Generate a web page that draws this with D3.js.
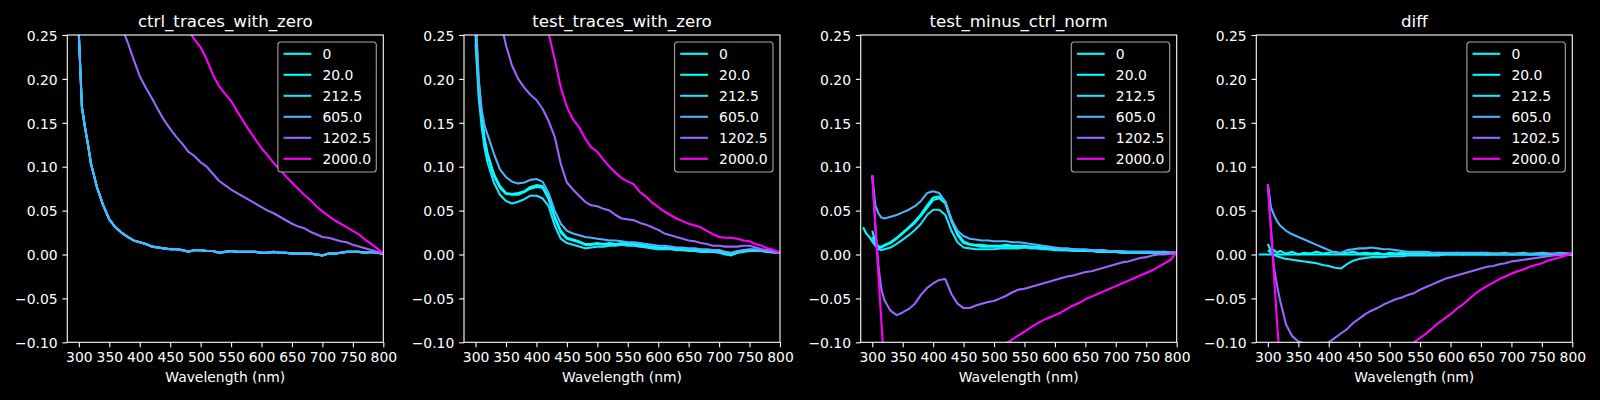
<!DOCTYPE html>
<html>
<head>
<meta charset="utf-8">
<script src="https://cdn.jsdelivr.net/npm/d3@7"></script>
<style>
    body { margin: 0; background: #000; }
    svg { display: block; font-family: "DejaVu Sans", sans-serif; }
</style>
</head>
<body>
<div id="chart"></div>
<script>
// wavelength grid (nm): 285..320 every 5, then 330..800 every 10
const wavelengths = [
    285, 290, 295, 300, 305, 310, 315, 320,
    330, 340, 350, 360, 370, 380, 390, 400,
    410, 420, 430, 440, 450, 460, 470, 480, 490, 500,
    510, 520, 530, 540, 550, 560, 570, 580, 590, 600,
    610, 620, 630, 640, 650, 660, 670, 680, 690, 700,
    710, 720, 730, 740, 750, 760, 770, 780, 790, 800
];

const concentrations = [0, 20, 212.5, 605, 1202.5, 2000];
const concLabels = ["0", "20.0", "212.5", "605.0", "1202.5", "2000.0"];
const panelTitles = ["ctrl_traces_with_zero", "test_traces_with_zero", "test_minus_ctrl_norm", "diff"];
const xTicks = [300, 350, 400, 450, 500, 550, 600, 650, 700, 750, 800];
const yTicks = [-0.10, -0.05, 0.00, 0.05, 0.10, 0.15, 0.20, 0.25];

// ---- ctrl traces (0, 20, 212.5 and 605 coincide)
const ctrlLow = [
    1.2, 0.8, 0.45, 0.25, 0.168, 0.145, 0.125, 0.103,
    0.076, 0.056, 0.040, 0.031, 0.025, 0.020, 0.016, 0.014,
    0.012, 0.009, 0.008, 0.007, 0.006, 0.006, 0.005, 0.003, 0.005, 0.005,
    0.004, 0.004, 0.002, 0.003, 0.004, 0.003, 0.003, 0.003, 0.003, 0.002,
    0.002, 0.003, 0.002, 0.002, 0.001, 0.001, 0.001, 0.001, 0.000, -0.001,
    0.001, 0.001, 0.002, 0.003, 0.003, 0.003, 0.002, 0.003, 0.002, 0.001
];
const ctrl1202 = [
    0.55, 0.52, 0.49, 0.46, 0.44, 0.42, 0.405, 0.39,
    0.36, 0.33, 0.305, 0.28, 0.26, 0.242, 0.222, 0.203,
    0.19, 0.178, 0.165, 0.153, 0.143, 0.134, 0.126, 0.117, 0.112, 0.105,
    0.100, 0.092, 0.084, 0.079, 0.074, 0.070, 0.066, 0.062, 0.058, 0.054,
    0.050, 0.047, 0.043, 0.039, 0.035, 0.032, 0.030, 0.026, 0.023, 0.020,
    0.019, 0.017, 0.015, 0.014, 0.011, 0.009, 0.007, 0.005, 0.003, 0.001
];
const ctrl2000 = [
    0.78, 0.75, 0.72, 0.70, 0.68, 0.66, 0.64, 0.62,
    0.58, 0.54, 0.51, 0.48, 0.45, 0.42, 0.40, 0.38,
    0.36, 0.34, 0.32, 0.305, 0.29, 0.28, 0.265, 0.255, 0.245, 0.236,
    0.222, 0.205, 0.192, 0.183, 0.175, 0.163, 0.152, 0.141, 0.131, 0.121,
    0.113, 0.104, 0.097, 0.089, 0.082, 0.075, 0.068, 0.062, 0.055, 0.049,
    0.044, 0.039, 0.035, 0.031, 0.027, 0.023, 0.017, 0.012, 0.007, 0.001
];

// ---- test traces
const test0 = [
    1.0, 0.7, 0.45, 0.26, 0.2, 0.16, 0.132, 0.115,
    0.092, 0.078, 0.070, 0.069, 0.070, 0.072, 0.077, 0.079,
    0.078, 0.066, 0.043, 0.027, 0.019, 0.017, 0.015, 0.012, 0.012, 0.013,
    0.012, 0.013, 0.012, 0.013, 0.012, 0.013, 0.011, 0.010, 0.009, 0.008,
    0.008, 0.007, 0.007, 0.006, 0.006, 0.005, 0.005, 0.004, 0.004, 0.003,
    0.002, 0.000, 0.003, 0.004, 0.005, 0.005, 0.004, 0.004, 0.003, 0.002
];
const test20 = [
    null, null, null, 0.25, 0.19, 0.155, 0.128, 0.112,
    0.089, 0.076, 0.069, 0.068, 0.068, 0.071, 0.075, 0.077,
    0.076, 0.063, 0.041, 0.025, 0.018, 0.016, 0.014, 0.011, 0.011, 0.012,
    0.011, 0.012, 0.011, 0.012, 0.012, 0.012, 0.010, 0.010, 0.008, 0.008,
    0.007, 0.007, 0.006, 0.006, 0.005, 0.005, 0.004, 0.004, 0.003, 0.003,
    0.001, 0.000, 0.002, 0.004, 0.004, 0.005, 0.004, 0.003, 0.003, 0.002
];
const test212 = [
    null, null, null, 0.24, 0.18, 0.145, 0.12, 0.104,
    0.082, 0.068, 0.061, 0.058, 0.060, 0.063, 0.067, 0.067,
    0.064, 0.055, 0.033, 0.018, 0.013, 0.011, 0.009, 0.007, 0.008, 0.009,
    0.009, 0.010, 0.010, 0.011, 0.010, 0.010, 0.009, 0.008, 0.007, 0.006,
    0.006, 0.006, 0.005, 0.005, 0.004, 0.004, 0.003, 0.003, 0.003, 0.002,
    0.000, -0.001, 0.002, 0.003, 0.004, 0.004, 0.004, 0.003, 0.002, 0.002
];
const test605 = [
    null, null, null, 0.28, 0.2, 0.165, 0.146, 0.136,
    0.115, 0.097, 0.088, 0.083, 0.081, 0.082, 0.085, 0.086,
    0.083, 0.070, 0.050, 0.035, 0.027, 0.024, 0.022, 0.020, 0.019, 0.018,
    0.017, 0.016, 0.016, 0.015, 0.014, 0.014, 0.013, 0.012, 0.011, 0.010,
    0.010, 0.009, 0.008, 0.008, 0.007, 0.007, 0.006, 0.006, 0.005, 0.005,
    0.003, 0.002, 0.004, 0.005, 0.006, 0.006, 0.005, 0.004, 0.003, 0.002
];
const test1202 = [
    null, null, null, 0.5, 0.46, 0.42, 0.39, 0.36,
    0.31, 0.27, 0.238, 0.215, 0.200, 0.190, 0.182, 0.176,
    0.166, 0.152, 0.134, 0.103, 0.082, 0.074, 0.067, 0.060, 0.056, 0.055,
    0.052, 0.050, 0.045, 0.041, 0.040, 0.039, 0.036, 0.034, 0.031, 0.028,
    0.024, 0.022, 0.020, 0.018, 0.016, 0.015, 0.013, 0.012, 0.010, 0.010,
    0.009, 0.009, 0.009, 0.010, 0.010, 0.008, 0.006, 0.005, 0.003, 0.002
];
const test2000 = [
    null, null, null, 0.8, 0.76, 0.72, 0.68, 0.65,
    0.58, 0.52, 0.47, 0.43, 0.39, 0.36, 0.33, 0.30,
    0.275, 0.252, 0.222, 0.19, 0.168, 0.154, 0.145, 0.132, 0.122, 0.117,
    0.108, 0.100, 0.093, 0.087, 0.083, 0.080, 0.071, 0.066, 0.059, 0.054,
    0.049, 0.045, 0.041, 0.038, 0.035, 0.033, 0.031, 0.027, 0.023, 0.020,
    0.019, 0.019, 0.018, 0.016, 0.015, 0.012, 0.010, 0.007, 0.005, 0.002
];

// ---- test minus ctrl, normalised
const norm0 = [
    0.031, 0.024, 0.020, 0.015, 0.010, 0.007, 0.008, 0.010,
    0.013, 0.018, 0.024, 0.030, 0.036, 0.044, 0.053, 0.062,
    0.064, 0.058, 0.038, 0.022, 0.013, 0.011, 0.010, 0.009, 0.009, 0.009,
    0.009, 0.009, 0.009, 0.008, 0.009, 0.008, 0.008, 0.007, 0.006, 0.006,
    0.005, 0.005, 0.005, 0.004, 0.004, 0.004, 0.004, 0.003, 0.003, 0.003,
    0.002, 0.002, 0.002, 0.002, 0.002, 0.002, 0.002, 0.002, 0.002, 0.002
];
const norm20 = [
    null, null, null, 0.027, 0.015, 0.009, 0.009, 0.011,
    0.014, 0.019, 0.025, 0.031, 0.038, 0.046, 0.056, 0.065,
    0.066, 0.060, 0.040, 0.024, 0.015, 0.012, 0.011, 0.011, 0.010, 0.010,
    0.010, 0.011, 0.010, 0.010, 0.010, 0.009, 0.009, 0.008, 0.007, 0.007,
    0.006, 0.006, 0.006, 0.005, 0.005, 0.005, 0.004, 0.004, 0.004, 0.003,
    0.003, 0.003, 0.003, 0.003, 0.003, 0.003, 0.002, 0.003, 0.002, 0.002
];
const norm212 = [
    null, null, null, 0.020, 0.012, 0.006, 0.005, 0.006,
    0.008, 0.012, 0.017, 0.022, 0.028, 0.035, 0.045, 0.051,
    0.051, 0.045, 0.027, 0.014, 0.008, 0.007, 0.006, 0.006, 0.006, 0.006,
    0.007, 0.007, 0.007, 0.007, 0.008, 0.007, 0.007, 0.006, 0.006, 0.005,
    0.005, 0.005, 0.004, 0.004, 0.004, 0.004, 0.003, 0.003, 0.003, 0.003,
    0.002, 0.002, 0.002, 0.002, 0.002, 0.002, 0.002, 0.002, 0.002, 0.002
];
const norm605 = [
    null, null, null, 0.090, 0.056, 0.047, 0.042, 0.041,
    0.043, 0.045, 0.048, 0.051, 0.055, 0.061, 0.070, 0.072,
    0.070, 0.060, 0.040, 0.027, 0.021, 0.018, 0.017, 0.016, 0.016, 0.015,
    0.015, 0.015, 0.014, 0.014, 0.013, 0.012, 0.011, 0.010, 0.009, 0.008,
    0.007, 0.007, 0.006, 0.006, 0.006, 0.005, 0.005, 0.005, 0.004, 0.004,
    0.004, 0.003, 0.003, 0.003, 0.003, 0.003, 0.003, 0.003, 0.002, 0.002
];
const norm1202 = [
    null, null, null, 0.090, 0.033, -0.012, -0.040, -0.052,
    -0.064, -0.069, -0.066, -0.062, -0.056, -0.046, -0.038, -0.033,
    -0.029, -0.028, -0.045, -0.056, -0.061, -0.061, -0.058, -0.056, -0.054, -0.053,
    -0.050, -0.047, -0.043, -0.040, -0.039, -0.037, -0.035, -0.033, -0.031, -0.029,
    -0.027, -0.025, -0.024, -0.022, -0.020, -0.019, -0.017, -0.015, -0.013, -0.011,
    -0.009, -0.008, -0.006, -0.004, -0.003, -0.001, 0.000, 0.000, 0.001, 0.001
];
const norm2000 = [
    null, null, null, 0.090, 0.033, -0.022, -0.077, -0.130,
    -0.19, -0.23, -0.25, -0.26, -0.26, -0.25, -0.24, -0.23,
    -0.22, -0.21, -0.20, -0.185, -0.17, -0.16, -0.15, -0.138, -0.128, -0.118,
    -0.109, -0.101, -0.097, -0.092, -0.088, -0.083, -0.079, -0.075, -0.072, -0.069,
    -0.066, -0.062, -0.058, -0.055, -0.051, -0.048, -0.045, -0.042, -0.039, -0.036,
    -0.033, -0.030, -0.027, -0.024, -0.021, -0.018, -0.014, -0.010, -0.006, 0.003
];

// ---- diff (relative to the 0 trace)
const diff0 = [
    0, 0, 0, 0, 0, 0, 0, 0,
    0, 0, 0, 0, 0, 0, 0, 0,
    0, 0, 0, 0, 0, 0, 0, 0, 0, 0,
    0, 0, 0, 0, 0, 0, 0, 0, 0, 0,
    0, 0, 0, 0, 0, 0, 0, 0, 0, 0,
    0, 0, 0, 0, 0, 0, 0, 0, 0, 0
];
const diff20 = [
    null, null, null, 0.012, 0.004, 0.005, 0.002, 0.004,
    0.001, 0.003, 0.000, 0.002, 0.001, 0.003, 0.001, 0.002,
    0.003, 0.001, 0.002, 0.003, 0.001, 0.002, 0.001, 0.002, 0.000, 0.002,
    0.001, 0.002, 0.001, 0.001, 0.002, 0.000, 0.001, 0.002, 0.001, 0.001,
    0.002, 0.000, 0.001, 0.001, 0.002, 0.000, 0.001, 0.001, 0.002, 0.000,
    0.001, 0.002, 0.000, 0.001, 0.002, 0.001, 0.000, 0.001, 0.001, 0.000
];
const diff212 = [
    null, null, null, 0.005, 0.002, 0.000, -0.002, -0.003,
    -0.005, -0.006, -0.007, -0.008, -0.009, -0.010, -0.012, -0.013,
    -0.015, -0.016, -0.011, -0.007, -0.005, -0.004, -0.003, -0.003, -0.003, -0.002,
    -0.002, -0.002, -0.001, -0.001, -0.001, -0.001, -0.001, -0.001, 0.000, 0.000,
    0.000, 0.000, 0.000, 0.000, 0.000, 0.000, 0.000, 0.000, 0.000, 0.000,
    0.000, 0.000, 0.000, 0.000, 0.000, 0.000, 0.000, 0.000, 0.000, 0.000
];
const diff605 = [
    null, null, null, 0.080, 0.054, 0.045, 0.038, 0.033,
    0.027, 0.023, 0.020, 0.017, 0.014, 0.011, 0.008, 0.005,
    0.002, 0.002, 0.005, 0.006, 0.007, 0.007, 0.008, 0.007, 0.006, 0.006,
    0.005, 0.004, 0.003, 0.003, 0.003, 0.003, 0.002, 0.002, 0.002, 0.002,
    0.002, 0.002, 0.002, 0.002, 0.002, 0.002, 0.001, 0.001, 0.001, 0.001,
    0.001, 0.001, 0.001, 0.001, 0.001, 0.001, 0.001, 0.002, 0.001, 0.001
];
const diff1202 = [
    null, null, null, 0.080, 0.030, -0.015, -0.035, -0.052,
    -0.080, -0.093, -0.099, -0.101, -0.103, -0.104, -0.103, -0.100,
    -0.095, -0.090, -0.085, -0.078, -0.073, -0.068, -0.064, -0.061, -0.057, -0.054,
    -0.051, -0.049, -0.046, -0.044, -0.040, -0.037, -0.034, -0.031, -0.028, -0.026,
    -0.024, -0.022, -0.020, -0.018, -0.016, -0.014, -0.013, -0.011, -0.010, -0.008,
    -0.007, -0.006, -0.005, -0.004, -0.003, -0.002, -0.001, 0.000, 0.000, 0.001
];
const diff2000 = [
    null, null, null, 0.080, 0.028, -0.024, -0.076, -0.127,
    -0.20, -0.24, -0.26, -0.27, -0.27, -0.26, -0.25, -0.24,
    -0.23, -0.22, -0.21, -0.19, -0.18, -0.165, -0.155, -0.145, -0.135, -0.125,
    -0.118, -0.112, -0.105, -0.100, -0.095, -0.090, -0.084, -0.078, -0.073, -0.068,
    -0.062, -0.057, -0.051, -0.045, -0.040, -0.036, -0.032, -0.028, -0.025, -0.022,
    -0.019, -0.017, -0.014, -0.012, -0.010, -0.007, -0.005, -0.003, -0.001, 0.001
];

const panelSeries = [
    [ctrlLow, ctrlLow, ctrlLow, ctrlLow, ctrl1202, ctrl2000],
    [test0, test20, test212, test605, test1202, test2000],
    [norm0, norm20, norm212, norm605, norm1202, norm2000],
    [diff0, diff20, diff212, diff605, diff1202, diff2000]
];

// layout (matplotlib 16x4 in @ 100 dpi)
const W = 1600, H = 400;
const axLefts = [67.3, 464, 860.7, 1256.3];
const axWidth = 316, axTop = 35, axBottom = 342.3;
const tickFont = 13.9, titleFont = 16.67;
const lineWidth = 2.08;

const color = d3.scaleLinear()
    .domain([0, 2000])
    .range(["#00ffff", "#ff00ff"])
    .interpolate(d3.interpolateRgb);

const svg = d3.select("#chart")
    .append("svg")
    .attr("width", W)
    .attr("height", H)
    .style("background", "#000");

svg.append("rect").attr("width", W).attr("height", H).attr("fill", "#000");

function drawPanel(i) {
    const left = axLefts[i];
    const x = d3.scaleLinear().domain([281, 800]).range([left, left + axWidth]);
    const y = d3.scaleLinear().domain([-0.10, 0.25]).range([axBottom, axTop]);

    const g = svg.append("g");

    g.append("clipPath")
        .attr("id", `clip${i}`)
        .append("rect")
        .attr("x", left)
        .attr("y", axTop)
        .attr("width", axWidth)
        .attr("height", axBottom - axTop);

    // traces
    const line = d3.line()
        .defined(d => d[1] != null)
        .x(d => x(d[0]))
        .y(d => y(d[1]));

    g.append("g")
        .attr("clip-path", `url(#clip${i})`)
        .selectAll("path")
        .data(panelSeries[i])
        .join("path")
        .attr("d", vals => line(wavelengths.map((w, k) => [w, vals[k]])))
        .attr("fill", "none")
        .attr("stroke", (d, k) => color(concentrations[k]))
        .attr("stroke-width", lineWidth)
        .attr("stroke-linejoin", "round");

    // axes
    const xAxis = g.append("g")
        .attr("transform", `translate(0,${axBottom})`)
        .call(d3.axisBottom(x).tickValues(xTicks).tickSize(4.86).tickPadding(4.86).tickFormat(d3.format("d")));
    const yAxis = g.append("g")
        .attr("transform", `translate(${left},0)`)
        .call(d3.axisLeft(y).tickValues(yTicks).tickSize(4.86).tickPadding(4.86).tickFormat(d3.format(".2f")));

    [xAxis, yAxis].forEach(a => {
        a.select(".domain").remove();
        a.selectAll(".tick line").attr("stroke", "#fff").attr("stroke-width", 1.1);
        a.selectAll(".tick text")
            .attr("fill", "#fff")
            .style("font-size", tickFont + "px")
            .style("font-family", "'DejaVu Sans', sans-serif");
    });
    yAxis.selectAll(".tick text").attr("dy", "0.38em");

    // frame (spines)
    g.append("rect")
        .attr("x", left)
        .attr("y", axTop)
        .attr("width", axWidth)
        .attr("height", axBottom - axTop)
        .attr("fill", "none")
        .attr("stroke", "#fff")
        .attr("stroke-width", 1.1);

    // title and x label
    g.append("text")
        .attr("x", left + axWidth / 2)
        .attr("y", axTop - 8.3)
        .attr("text-anchor", "middle")
        .attr("fill", "#fff")
        .style("font-size", titleFont + "px")
        .text(panelTitles[i]);

    g.append("text")
        .attr("x", left + axWidth / 2)
        .attr("y", 381.7)
        .attr("text-anchor", "middle")
        .attr("fill", "#fff")
        .style("font-size", tickFont + "px")
        .text("Wavelength (nm)");

    // legend, upper right
    const legW = 98.4, legH = 130;
    const legX = left + axWidth - 7 - legW, legY = axTop + 7;
    const leg = g.append("g").attr("transform", `translate(${legX},${legY})`);
    leg.append("rect")
        .attr("width", legW)
        .attr("height", legH)
        .attr("rx", 3)
        .attr("fill", "#000")
        .attr("fill-opacity", 0.8)
        .attr("stroke", "#cccccc")
        .attr("stroke-opacity", 0.8)
        .attr("stroke-width", 1.1);

    const rows = leg.selectAll(".row")
        .data(concentrations)
        .join("g")
        .attr("class", "row")
        .attr("transform", (d, k) => `translate(0,${11.8 + k * 21})`);
    rows.append("line")
        .attr("x1", 5.6)
        .attr("x2", 33.4)
        .attr("stroke", d => color(d))
        .attr("stroke-width", lineWidth);
    rows.append("text")
        .attr("x", 44.5)
        .attr("y", 5)
        .attr("fill", "#fff")
        .style("font-size", tickFont + "px")
        .text((d, k) => concLabels[k]);
}

panelTitles.forEach((t, i) => drawPanel(i));
</script>
</body>
</html>
